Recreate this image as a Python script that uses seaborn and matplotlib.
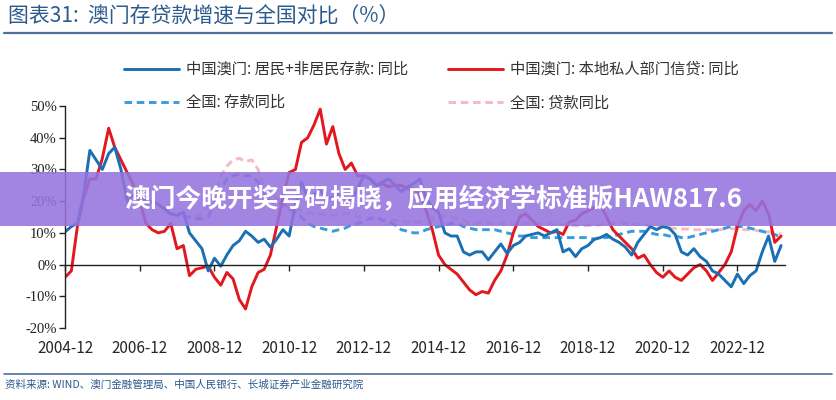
import numpy as np
import pandas as pd
import matplotlib
matplotlib.use("Agg")
import matplotlib.pyplot as plt
from matplotlib.lines import Line2D
import seaborn as sns

# ---------------- data (bimonthly, from 2004-12) ----------------
start_month = "2004-12-01"

macau_deposit = [
    10.3, 12, 13, 22, 36, 33, 30, 35, 37, 30,
    20, 22, 24, 19, 20, 19, 17.5, 16, 15.5, 16.5,
    10, 7.5, 5, -2, 2, -0.5, 3, 6, 7.5, 10.5,
    9, 7, 8, 5.5, 8, 11, 9, 19, 26, 21,
    22, 23.5, 21, 21, 22.5, 21, 20.5, 24, 28, 27,
    25, 26, 27, 25, 23, 24.5, 25.5, 27, 21, 18,
    16.5, 10, 9, 9, 4, 3, 4, 4, 1.5, 4,
    6.5, 3.5, 6, 7, 9, 9.5, 10, 9, 10, 11,
    4, 5, 2.5, 5, 6, 8, 8.5, 9.5, 8, 7,
    5.5, 3, 7, 9.5, 12, 11, 12, 11.5, 9.5, 4,
    3, 5, 2.5, 1, -2, -3, -5, -7, -3, -6,
    -3.5, -2, 4, 9, 1, 6,
]

macau_loan = [
    -4, -2, 12, 21, 27, 27, 33.5, 43, 37, 33,
    29, 25, 20, 13, 11, 10, 10.5, 13, 5, 6,
    -3.5, -1.5, -1, -0.5, -4, -6.5, -2.5, -4.5, -11, -14,
    -7, -2.5, -1.5, 3, 12, 21, 29, 30, 38.5, 40,
    44, 49, 38, 43.5, 35, 30, 32, 28, 28, 27,
    25, 25.5, 24.5, 25, 25, 24, 24, 22, 17, 11,
    3, 0, -1.5, -3, -5.5, -8, -9.5, -8.5, -9, -5,
    -2, 3, 10, 15, 16, 14, 12, 11, 10, 10.5,
    9.5, 13.5, 14, 16, 17, 18, 19, 15, 11, 9,
    7, 5, 2, 3, 0, -2.5, -4, -2, -4, -5,
    -3, -1, 0, -2, -5, -2.5, 0, 4, 12, 17,
    19, 17, 20, 16, 7, 9,
]

nan = np.nan
china_deposit = [nan] * 19 + [
    15, 15, 14.5, 14.5, 15, 19, 24, 27, 28, 28.5, 28,
    28, 26, 22, 20, 19, 19, 17.5, 16.5, 15, 13,
    12, 11.5, 11, 10.5, 11, 11.5, 12.5, 13, 13.5, 14.5,
    15, 14, 13.5, 12.5, 11, 10.5, 10, 10, 11, 11.5,
    12, 12.5, 13, 13, 12, 11.5, 11, 11, 11, 11,
    10.5, 10, 9.5, 9, 9, 8.5, 8.5, 8.5, 8.5, 8.5,
    8.5, 8.5, 8.5, 8.5, 8.5, 8, 8.5, 8.5, 9, 9.5,
    10, 10.5, 10.5, 10.5, 10, 9.5, 9.5, 9, 9, 8.5,
    8.5, 9, 9.5, 10, 10.5, 11, 11.5, 12, 12, 12,
    11.5, 11, 10.5, 10, 9.5, 8.5,
]

china_loan = [nan] * 19 + [
    15, 15, 15, 16, 18.5, 21, 28, 31, 33, 33.5, 32.5,
    33, 30, 24, 22, 21, 19.5, 18, 17.5, 17, 16.5,
    16, 16, 15.5, 15.5, 15.5, 16, 16, 15, 15, 14.5,
    14.5, 14, 14, 14, 13.5, 13.5, 13.5, 13.5, 14, 14.5,
    15, 15.5, 15, 14.5, 14, 13, 13, 13, 13, 13,
    13, 13, 12.5, 13, 13, 13, 13, 13, 12.8, 12.7,
    12.5, 12.5, 12.3, 12.2, 12.3, 12.4, 12.5, 12.8, 13, 13.2,
    13, 12.8, 12.7, 12.5, 12.2, 12, 11.8, 11.6, 11.4, 11.2,
    11.2, 11, 11, 11, 11, 11, 11.2, 11.3, 11.3, 11,
    11, 10.8, 10.5, 10.3, 10, 9.6,
]

series_labels = [
    "中国澳门: 居民+非居民存款: 同比",
    "中国澳门: 本地私人部门信贷: 同比",
    "全国: 存款同比",
    "全国: 贷款同比",
]

x_tick_years = [2004, 2006, 2008, 2010, 2012, 2014, 2016, 2018, 2020, 2022]
y_ticks = [-20, -10, 0, 10, 20, 30, 40, 50]
y_tick_labels = ["-20%", "-10%", "0%", "10%", "20%", "30%", "40%", "50%"]

title_text = "图表31:  澳门存贷款增速与全国对比（%）"
source_text = "资料来源: WIND、澳门金融管理局、中国人民银行、长城证券产业金融研究院"
banner_text = "澳门今晚开奖号码揭晓，应用经济学标准版HAW817.6"

# ---------------- build frame ----------------
dates = pd.date_range(start_month, periods=len(macau_deposit), freq="2MS")
df = pd.DataFrame({
    "date": dates,
    "macau_dep": macau_deposit,
    "macau_loan": macau_loan,
    "cn_dep": china_deposit,
    "cn_loan": china_loan,
})

# ---------------- style ----------------
sns.set_theme(style="ticks")
plt.rcParams["font.family"] = ["Noto Sans CJK SC", "DejaVu Sans"]
plt.rcParams["axes.unicode_minus"] = False

W, H = 836, 400
fig = plt.figure(figsize=(W / 100, H / 100), dpi=100)
ax = fig.add_axes([65 / W, 1 - 328 / H, (785 - 65) / W, (328 - 106) / H])

c_mdep = "#1B6FB3"
c_mloan = "#E3171E"
c_cdep = "#3A9BDC"
c_cloan = "#F5BAC3"
lw = 2.1

sns.lineplot(data=df, x="date", y="cn_loan", ax=ax, color=c_cloan, lw=lw,
             linestyle=(0, (2.6, 1.6)), label=series_labels[3])
sns.lineplot(data=df, x="date", y="cn_dep", ax=ax, color=c_cdep, lw=lw,
             linestyle=(0, (2.6, 1.6)), label=series_labels[2])
sns.lineplot(data=df, x="date", y="macau_loan", ax=ax, color=c_mloan, lw=lw,
             label=series_labels[1])
sns.lineplot(data=df, x="date", y="macau_dep", ax=ax, color=c_mdep, lw=lw,
             label=series_labels[0])

ax.set_ylim(-20, 50)
ax.set_xlim(pd.Timestamp("2004-12-01"), pd.Timestamp("2024-03-10"))
ax.set_xlabel("")
ax.set_ylabel("")

ax.set_yticks(y_ticks)
ax.set_yticklabels(y_tick_labels, family="Liberation Serif", fontsize=10.5, color="#222222")
xt = [pd.Timestamp(f"{y}-12-01") for y in x_tick_years]
ax.set_xticks(xt)
ax.set_xticklabels([f"{y}-12" for y in x_tick_years], family="Liberation Serif",
                   fontsize=11, color="#222222")

for s in ["top", "right"]:
    ax.spines[s].set_visible(False)
ax.spines["left"].set_color("#222222")
ax.spines["left"].set_linewidth(1.0)
ax.spines["bottom"].set_position(("data", 0))
ax.spines["bottom"].set_color("#222222")
ax.spines["bottom"].set_linewidth(1.0)
ax.tick_params(axis="y", direction="out", length=4, width=1, color="#222222", pad=2)
ax.tick_params(axis="x", direction="out", length=4, width=1, color="#222222", pad=50)
ax.grid(False)
ax.patch.set_alpha(0)

# legend
handles, labels = ax.get_legend_handles_labels()
hmap = dict(zip(labels, handles))
order = [series_labels[0], series_labels[2], series_labels[1], series_labels[3]]
leg = fig.legend([hmap[l] for l in order], order, loc="upper left",
                 bbox_to_anchor=(124 / W, 1 - 61 / H), ncol=2, frameon=False,
                 fontsize=11, handlelength=3.6, handletextpad=0.45,
                 columnspacing=2.6, labelspacing=1.05, borderpad=0, borderaxespad=0)
for t in leg.get_texts():
    t.set_color("#333333")
if ax.get_legend() is not None:
    ax.get_legend().remove()

# title and rules
hdr_color = "#2B5A8C"
fig.text(8 / W, 1 - 17 / H, title_text, fontsize=15, color=hdr_color,
         ha="left", va="center", style="italic")
fig.add_artist(Line2D([4 / W, 832 / W], [1 - 33 / H, 1 - 33 / H], color="#4F7097", lw=1.6))
fig.add_artist(Line2D([4 / W, 832 / W], [1 - 374 / H, 1 - 374 / H], color="#4F7097", lw=1.2))
fig.text(5 / W, 1 - 385 / H, source_text, fontsize=7.6, color=hdr_color,
         ha="left", va="center", style="italic")

# overlay banner
fig.patches.append(matplotlib.patches.Rectangle((0, 1 - 226 / H), 1, 54 / H,
                   transform=fig.transFigure, facecolor="#9573DF", alpha=0.88,
                   edgecolor="none", zorder=5))
fig.text(433 / W, 1 - 200 / H, banner_text, fontsize=18.5, color="white",
         fontweight="bold", ha="center", va="center", zorder=6)

fig.savefig("out.png", dpi=100)
